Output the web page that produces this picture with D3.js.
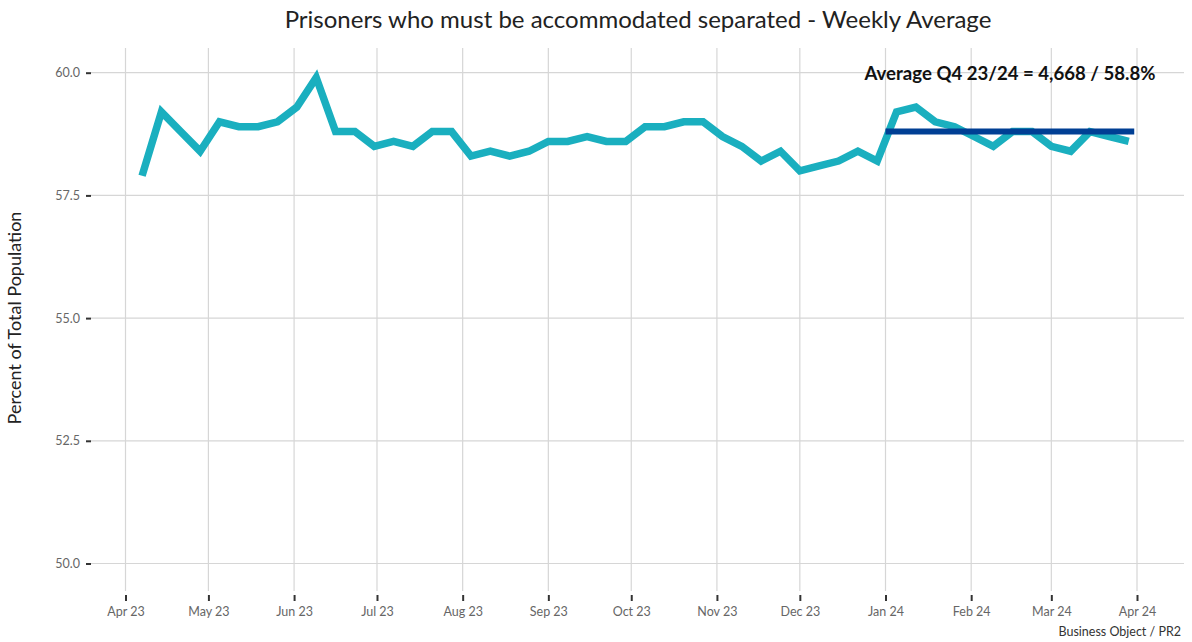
<!DOCTYPE html>
<html>
<head>
<meta charset="utf-8">
<script src="https://cdn.jsdelivr.net/npm/d3@7"></script>
<style>
  body { margin: 0; background: #fff; }
  svg { display: block; font-family: Lato, "Open Sans", sans-serif; }
</style>
</head>
<body>
<svg id="chart" width="1192" height="642"></svg>
<script>
// weekly data points (week ending Friday)
const weeks = [
  "2023-04-07", "2023-04-14", "2023-04-21", "2023-04-28", "2023-05-05", "2023-05-12", "2023-05-19", "2023-05-26",
  "2023-06-02", "2023-06-09", "2023-06-16", "2023-06-23", "2023-06-30", "2023-07-07", "2023-07-14", "2023-07-21",
  "2023-07-28", "2023-08-04", "2023-08-11", "2023-08-18", "2023-08-25", "2023-09-01", "2023-09-08", "2023-09-15",
  "2023-09-22", "2023-09-29", "2023-10-06", "2023-10-13", "2023-10-20", "2023-10-27", "2023-11-03", "2023-11-10",
  "2023-11-17", "2023-11-24", "2023-12-01", "2023-12-08", "2023-12-15", "2023-12-22", "2023-12-29", "2024-01-05",
  "2024-01-12", "2024-01-19", "2024-01-26", "2024-02-02", "2024-02-09", "2024-02-16", "2024-02-23", "2024-03-01",
  "2024-03-08", "2024-03-15", "2024-03-22", "2024-03-29"
];
const percent = [
  57.9, 59.2, 58.8, 58.4, 59.0, 58.9, 58.9, 59.0, 59.3, 59.9,
  58.8, 58.8, 58.5, 58.6, 58.5, 58.8, 58.8, 58.3, 58.4, 58.3,
  58.4, 58.6, 58.6, 58.7, 58.6, 58.6, 58.9, 58.9, 59.0, 59.0,
  58.7, 58.5, 58.2, 58.4, 58.0, 58.1, 58.2, 58.4, 58.2, 59.2,
  59.3, 59.0, 58.9, 58.7, 58.5, 58.8, 58.8, 58.5, 58.4, 58.8,
  58.7, 58.6
];
// Q4 average segment
const avgStart = "2024-01-01";
const avgEnd = "2024-03-31";
const avgValue = 58.8;
const avgLabel = "Average Q4 23/24 = 4,668 / 58.8%";

const yTicks = [50.0, 52.5, 55.0, 57.5, 60.0];
const xTicks = ["2023-04-01", "2023-05-01", "2023-06-01", "2023-07-01", "2023-08-01", "2023-09-01",
  "2023-10-01", "2023-11-01", "2023-12-01", "2024-01-01", "2024-02-01", "2024-03-01", "2024-04-01"];

const titleText = "Prisoners who must be accommodated separated - Weekly Average";
const yTitle = "Percent of Total Population";
const caption = "Business Object / PR2";

const parse = d3.utcParse("%Y-%m-%d");
const data = weeks.map((w, i) => ({ date: parse(w), value: percent[i] }));

const svg = d3.select("#chart");
const panel = { left: 91, right: 1184, top: 48, bottom: 591 };

const x = d3.scaleUtc()
  .domain([parse("2023-04-01"), parse("2024-04-01")])
  .range([125.5, 1137]);
const y = d3.scaleLinear()
  .domain([50, 60])
  .range([563.5, 72.7]);

// grid
const grid = svg.append("g").attr("class", "grid");
grid.selectAll(".hgrid")
  .data(yTicks)
  .enter()
  .append("line")
  .attr("x1", panel.left).attr("x2", panel.right)
  .attr("y1", d => y(d)).attr("y2", d => y(d))
  .attr("stroke", "#d6d6d6").attr("stroke-width", 1.2);
grid.selectAll(".vgrid")
  .data(xTicks.map(parse))
  .enter()
  .append("line")
  .attr("x1", d => x(d)).attr("x2", d => x(d))
  .attr("y1", panel.top).attr("y2", panel.bottom)
  .attr("stroke", "#d6d6d6").attr("stroke-width", 1.2);

// axes
const fmtMonth = d3.utcFormat("%b %y");
const xAxis = d3.axisBottom(x)
  .tickValues(xTicks.map(parse))
  .tickFormat(fmtMonth)
  .tickSize(6)
  .tickPadding(6);
const gx = svg.append("g")
  .attr("class", "x-axis")
  .attr("transform", `translate(0,${panel.bottom + 4})`)
  .call(xAxis);

const yAxis = d3.axisLeft(y)
  .tickValues(yTicks)
  .tickFormat(d3.format(".1f"))
  .tickSize(5)
  .tickPadding(6);
const gy = svg.append("g")
  .attr("class", "y-axis")
  .attr("transform", `translate(${panel.left},0)`)
  .call(yAxis);

[gx, gy].forEach(g => {
  g.select(".domain").remove();
  g.selectAll(".tick line").attr("stroke", "#333").attr("stroke-width", 2);
  g.selectAll(".tick text")
    .attr("fill", "#666")
    .style("font-size", "12.5px")
    .style("font-family", "Lato, sans-serif");
});

// series line
const line = d3.line()
  .x(d => x(d.date))
  .y(d => y(d.value));
svg.append("path")
  .datum(data)
  .attr("fill", "none")
  .attr("stroke", "#1aafbf")
  .attr("stroke-width", 7.5)
  .attr("stroke-linejoin", "miter")
  .attr("d", line);

// average segment
svg.append("line")
  .attr("x1", x(parse(avgStart)))
  .attr("x2", x(parse(avgEnd)))
  .attr("y1", y(avgValue))
  .attr("y2", y(avgValue))
  .attr("stroke", "#003f94")
  .attr("stroke-width", 6);

svg.append("text")
  .attr("x", 1010)
  .attr("y", 80)
  .attr("text-anchor", "middle")
  .attr("fill", "#111")
  .style("font-size", "18.6px")
  .style("font-weight", "bold")
  .text(avgLabel);

// titles
svg.append("text")
  .attr("x", 638)
  .attr("y", 28)
  .attr("text-anchor", "middle")
  .attr("fill", "#222")
  .style("font-size", "24px")
  .text(titleText);

svg.append("text")
  .attr("transform", `translate(21,318) rotate(-90)`)
  .attr("text-anchor", "middle")
  .attr("fill", "#222")
  .style("font-size", "18px")
  .text(yTitle);

svg.append("text")
  .attr("x", 1181)
  .attr("y", 636)
  .attr("text-anchor", "end")
  .attr("fill", "#333")
  .style("font-size", "12.5px")
  .text(caption);
</script>
</body>
</html>
